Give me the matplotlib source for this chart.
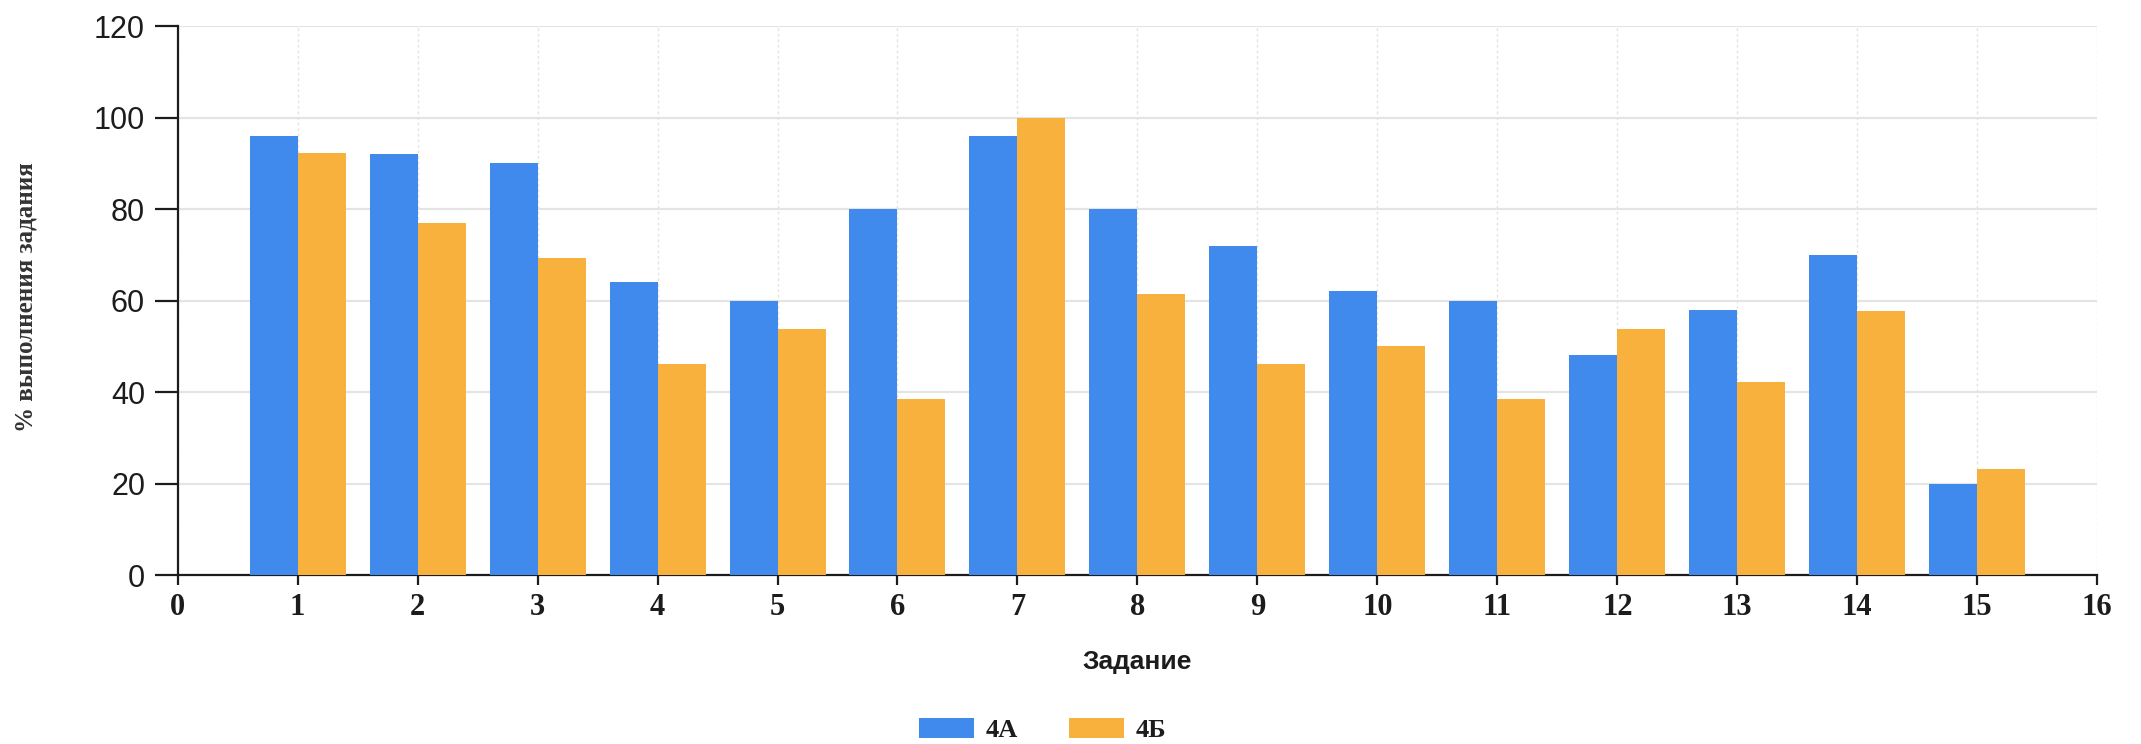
"""Bar chart: % выполнения задания по заданиям, классы 4А и 4Б."""
import matplotlib.pyplot as plt
import numpy as np

tasks = list(range(1, 16))
class_a = [96, 92, 90, 64, 60, 80, 96, 80, 72, 62, 60, 48, 58, 70, 20]
class_b = [92.3, 76.9, 69.2, 46.2, 53.8, 38.5, 100, 61.5, 46.2, 50, 38.5, 53.8, 42.3, 57.7, 23.1]
series_names = ["4А", "4Б"]
x_ticks = list(range(0, 17))
y_ticks = [0, 20, 40, 60, 80, 100, 120]

BLUE = "#418aed"
ORANGE = "#f9b13e"
GRID = "#e4e4e4"
INK = "#1c1c1c"
SANS = "Liberation Sans"
SERIF = "Liberation Serif"


def main():
    fig = plt.figure(figsize=(21.41, 7.44), dpi=100)
    ax = fig.add_axes([0.083, 0.227, 0.8965, 0.738])

    x = np.array(tasks)
    w = 0.4
    ax.bar(x - w / 2, class_a, width=w, color=BLUE, label=series_names[0], zorder=3)
    ax.bar(x + w / 2, class_b, width=w, color=ORANGE, label=series_names[1], zorder=3)

    ax.set_xlim(0, 16)
    ax.set_ylim(0, 120)
    ax.set_xticks(x_ticks)
    ax.set_yticks(y_ticks)

    ax.grid(axis="y", color=GRID, lw=1.6, zorder=0)
    ax.grid(axis="x", color=GRID, lw=1.0, ls=(0, (2, 2)), zorder=0)
    ax.set_axisbelow(True)

    for s in ("top", "right"):
        ax.spines[s].set_visible(False)
    for s in ("left", "bottom"):
        ax.spines[s].set_color(INK)
        ax.spines[s].set_linewidth(1.6)

    ax.tick_params(axis="y", length=16.5, width=1.6, color=INK, pad=7,
                   labelsize=22, labelcolor=INK)
    ax.tick_params(axis="x", length=7, width=1.6, color=INK, pad=6,
                   labelsize=22, labelcolor=INK)
    for t in ax.get_yticklabels():
        t.set_family(SANS)
    for t in ax.get_xticklabels():
        t.set_family(SERIF)
        t.set_weight("bold")

    ax.set_xlabel("Задание", family=SANS, weight="bold", fontsize=19,
                  color=INK, labelpad=20)
    fig.text(0.012, 0.6, "% выполнения задания", rotation=90, family=SERIF,
             weight="bold", fontsize=18, color="#333333", ha="center", va="center")

    leg = fig.legend(loc="center", bbox_to_anchor=(0.487, 0.019), ncol=2,
                     frameon=False, handlelength=2.1, handleheight=0.8,
                     columnspacing=1.9, handletextpad=0.45,
                     prop={"family": SERIF, "weight": "bold", "size": 19})
    for t in leg.get_texts():
        t.set_color(INK)

    fig.savefig("out.png", dpi=100, facecolor="white")


if __name__ == "__main__":
    main()
